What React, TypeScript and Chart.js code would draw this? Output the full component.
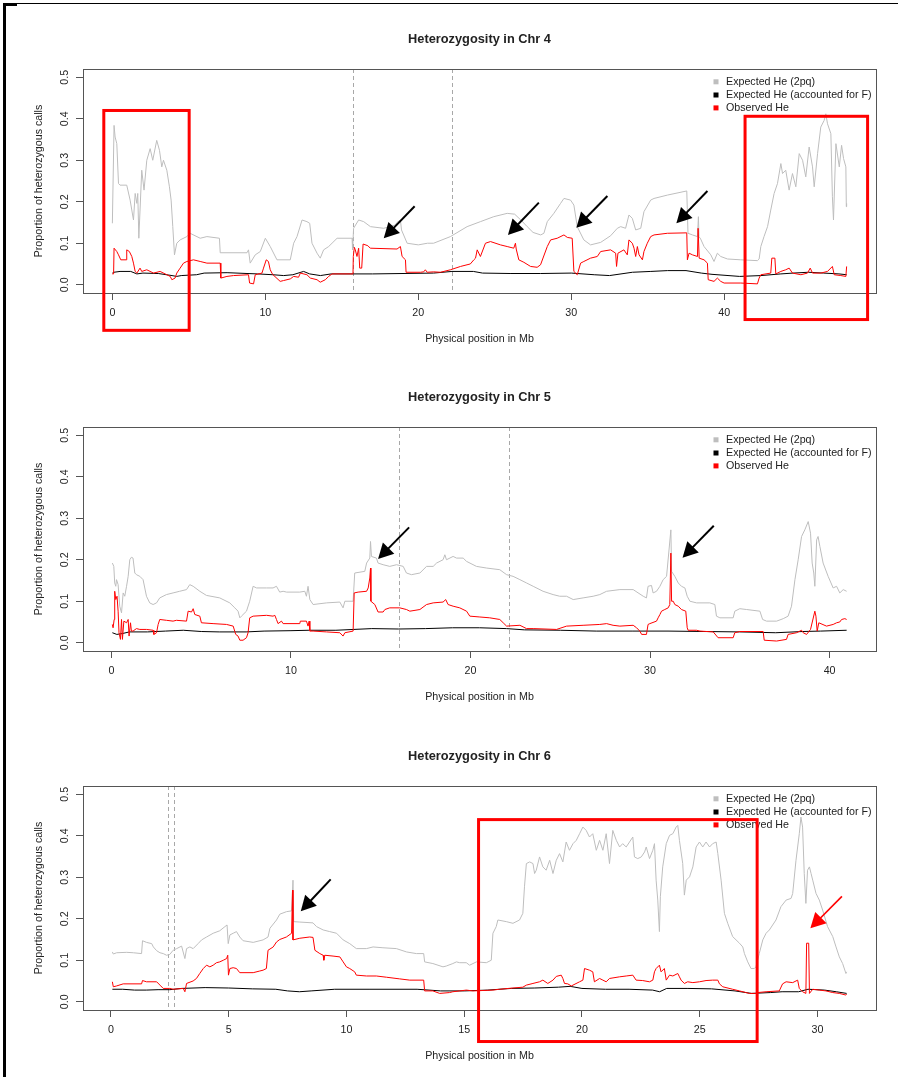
import React, { useEffect, useRef } from "react";
import { Chart, registerables } from "chart.js";

Chart.register(...registerables);

type Pt = [number, number];
type Box = [number, number, number, number];
type Arrow = [number, number, number, number, string];

// ---------------- Chr 4 ----------------
const chr4Exp2pq: Pt[] = [
  [0.0, 0.148], [0.11, 0.384], [0.18, 0.356], [0.29, 0.34], [0.4, 0.244], [0.5, 0.24], [0.94, 0.24], [1.16, 0.204],
  [1.38, 0.156], [1.49, 0.22], [1.6, 0.196], [1.66, 0.22], [1.73, 0.112], [1.92, 0.276], [2.07, 0.228], [2.25, 0.3],
  [2.47, 0.328], [2.64, 0.3], [2.9, 0.348], [3.08, 0.324], [3.23, 0.284], [3.34, 0.3], [3.56, 0.276], [3.73, 0.236],
  [3.84, 0.204], [3.95, 0.14], [4.06, 0.072], [4.21, 0.1], [4.43, 0.108], [4.87, 0.116], [5.08, 0.124], [5.74, 0.112],
  [6.18, 0.116], [7.0, 0.112], [7.05, 0.077], [8.8, 0.077], [8.9, 0.084], [9.01, 0.052], [9.34, 0.072], [9.67, 0.08],
  [10.0, 0.112], [10.32, 0.092], [10.76, 0.06], [11.63, 0.06], [11.85, 0.1], [12.07, 0.116], [12.4, 0.156], [12.72, 0.152],
  [12.9, 0.148], [13.05, 0.1], [13.38, 0.076], [13.59, 0.064], [13.81, 0.084], [14.14, 0.092], [14.36, 0.1], [14.69, 0.112],
  [15.67, 0.112], [15.7, 0.084], [15.77, 0.136], [16.1, 0.156], [16.43, 0.152], [16.87, 0.14], [17.74, 0.136], [18.5, 0.144],
  [18.6, 0.15], [18.83, 0.156], [18.9, 0.132], [19.27, 0.1], [20.0, 0.096], [20.6, 0.1], [21.0, 0.1], [22.1, 0.116],
  [23.19, 0.14], [24.06, 0.152], [24.93, 0.164], [25.81, 0.172], [26.3, 0.17], [26.7, 0.156], [27.12, 0.14], [27.5, 0.126],
  [28.0, 0.12], [28.21, 0.124], [28.43, 0.152], [28.86, 0.172], [29.3, 0.196], [29.52, 0.208], [29.95, 0.204], [30.17, 0.192],
  [30.39, 0.14], [30.82, 0.108], [31.26, 0.096], [31.92, 0.102], [32.57, 0.118], [33.01, 0.136], [33.23, 0.14], [33.55, 0.136],
  [33.77, 0.168], [33.99, 0.16], [34.21, 0.132], [34.54, 0.136], [34.75, 0.176], [35.19, 0.204], [35.41, 0.208], [36.28, 0.216],
  [37.55, 0.226], [37.63, 0.124], [37.92, 0.12], [38.25, 0.116], [38.31, 0.164], [38.35, 0.116], [38.46, 0.11], [38.68, 0.092],
  [39.12, 0.072], [39.33, 0.056], [39.55, 0.076], [39.77, 0.068], [40.21, 0.062], [41.08, 0.06], [42.17, 0.058], [42.28, 0.062],
  [42.39, 0.092], [42.6, 0.116], [42.83, 0.14], [43.04, 0.18], [43.26, 0.22], [43.48, 0.244], [43.7, 0.292], [43.81, 0.268],
  [44.02, 0.276], [44.24, 0.228], [44.46, 0.268], [44.68, 0.236], [44.9, 0.316], [45.12, 0.3], [45.33, 0.26], [45.55, 0.332],
  [45.77, 0.284], [45.88, 0.236], [46.1, 0.316], [46.31, 0.38], [46.53, 0.396], [46.64, 0.412], [46.75, 0.388], [46.97, 0.364],
  [47.07, 0.212], [47.14, 0.156], [47.3, 0.34], [47.52, 0.284], [47.67, 0.336], [47.8, 0.304], [47.95, 0.284], [47.98, 0.188],
  [48.0, 0.196],
];
const chr4ExpF: Pt[] = [
  [0, 0.028], [0.1, 0.03], [0.5, 0.032], [1.2, 0.032], [1.6, 0.026], [2.0, 0.028], [3.0, 0.027], [3.9, 0.022], [4.2, 0.02],
  [4.5, 0.022], [5.5, 0.024], [6.0, 0.028], [7.5, 0.029], [8.8, 0.027], [9.5, 0.026], [10.5, 0.024], [11.2, 0.022], [11.8, 0.024],
  [12.5, 0.032], [12.9, 0.026], [13.6, 0.022], [14.3, 0.026], [15.6, 0.026], [17, 0.026], [19, 0.027], [21, 0.028], [22.2, 0.032],
  [23.6, 0.032], [24.2, 0.028], [26, 0.027], [28, 0.027], [30, 0.028], [31.5, 0.024], [32.5, 0.022], [34, 0.03], [35.2, 0.032],
  [36.3, 0.034], [37.5, 0.034], [38.5, 0.028], [39.2, 0.025], [41, 0.02], [42.4, 0.022], [43.7, 0.026], [44.5, 0.028],
  [45.5, 0.03], [46.5, 0.028], [47.5, 0.026], [48, 0.024],
];
const chr4Obs: Pt[] = [
  [0.0, 0.026], [0.08, 0.026], [0.11, 0.088], [0.29, 0.08], [0.4, 0.072], [0.55, 0.06], [0.9, 0.06], [0.94, 0.084],
  [1.11, 0.08], [1.27, 0.068], [1.38, 0.052], [1.49, 0.032], [1.6, 0.028], [1.81, 0.04], [1.92, 0.032], [2.25, 0.036],
  [2.69, 0.028], [3.12, 0.032], [3.56, 0.024], [3.78, 0.02], [3.89, 0.012], [4.1, 0.016], [4.21, 0.028], [4.43, 0.04],
  [4.65, 0.052], [4.87, 0.056], [5.3, 0.06], [5.74, 0.056], [6.18, 0.052], [7.05, 0.052], [7.09, 0.016], [7.49, 0.02],
  [7.92, 0.022], [8.9, 0.024], [8.97, 0.004], [9.23, 0.002], [9.34, 0.024], [9.78, 0.028], [9.88, 0.04], [10.06, 0.06],
  [10.2, 0.056], [10.32, 0.036], [10.43, 0.028], [10.5, 0.024], [10.97, 0.008], [11.19, 0.01], [11.63, 0.014], [11.85, 0.02],
  [12.17, 0.018], [12.29, 0.028], [12.72, 0.024], [12.94, 0.016], [13.38, 0.012], [13.59, 0.006], [13.92, 0.012], [14.14, 0.02],
  [14.36, 0.026], [15.73, 0.026], [15.75, 0.068], [15.82, 0.09], [15.88, 0.084], [15.99, 0.068], [16.1, 0.088], [16.17, 0.04],
  [16.3, 0.04], [16.39, 0.098], [16.7, 0.094], [16.86, 0.088], [18.61, 0.086], [18.83, 0.092], [18.94, 0.068], [19.16, 0.06],
  [19.2, 0.03], [20.14, 0.03], [20.35, 0.031], [20.46, 0.036], [20.58, 0.03], [21.01, 0.031], [21.45, 0.03], [22.1, 0.036],
  [22.76, 0.044], [23.4, 0.05], [23.63, 0.06], [23.74, 0.064], [23.85, 0.084], [24.06, 0.068], [24.39, 0.1], [24.72, 0.104],
  [25.37, 0.096], [25.81, 0.092], [26.24, 0.088], [26.35, 0.1], [26.4, 0.086], [26.57, 0.06], [26.9, 0.054], [27.34, 0.044],
  [27.77, 0.042], [27.99, 0.048], [28.43, 0.092], [28.65, 0.108], [29.08, 0.112], [29.52, 0.12], [29.74, 0.114], [30.06, 0.112],
  [30.17, 0.032], [30.39, 0.024], [30.61, 0.052], [30.82, 0.056], [31.26, 0.064], [31.7, 0.068], [31.92, 0.08], [32.57, 0.084],
  [32.9, 0.076], [32.96, 0.044], [33.05, 0.076], [33.44, 0.084], [33.66, 0.072], [33.77, 0.108], [33.99, 0.1], [34.1, 0.088],
  [34.21, 0.068], [34.32, 0.092], [34.43, 0.072], [34.65, 0.06], [34.75, 0.08], [34.97, 0.1], [35.19, 0.116], [35.41, 0.12],
  [36.28, 0.124], [37.55, 0.125], [37.59, 0.06], [37.7, 0.076], [37.92, 0.072], [38.25, 0.068], [38.29, 0.136], [38.36, 0.064],
  [38.68, 0.06], [38.9, 0.052], [38.95, 0.012], [39.33, 0.008], [39.55, 0.016], [39.77, 0.008], [39.99, 0.004], [41.08, 0.004],
  [42.17, 0.002], [42.28, 0.016], [42.39, 0.024], [43.04, 0.028], [43.11, 0.064], [43.31, 0.064], [43.37, 0.026], [43.7, 0.032],
  [44.02, 0.036], [44.24, 0.04], [44.46, 0.028], [45.01, 0.024], [45.44, 0.028], [45.62, 0.04], [45.77, 0.028], [46.31, 0.028],
  [46.75, 0.032], [47.07, 0.044], [47.19, 0.024], [47.62, 0.022], [47.95, 0.02], [48.0, 0.044],
];
const chr4Dashes = [15.72, 22.2];
const chr4Boxes: Box[] = [[-0.56, 0.42, 5.02, -0.11], [41.36, 0.406, 49.37, -0.084]];
const chr4Arrows: Arrow[] = [
  [19.76, 0.189, 17.74, 0.112, "#000000"],
  [27.88, 0.198, 25.86, 0.12, "#000000"],
  [32.36, 0.214, 30.33, 0.137, "#000000"],
  [38.9, 0.226, 36.87, 0.148, "#000000"],
];

// ---------------- Chr 5 ----------------
const chr5Exp2pq: Pt[] = [
  [0.05, 0.192], [0.13, 0.184], [0.18, 0.144], [0.24, 0.136], [0.28, 0.152], [0.37, 0.14], [0.46, 0.088], [0.56, 0.072],
  [0.65, 0.12], [0.74, 0.112], [0.84, 0.136], [0.93, 0.16], [1.02, 0.2], [1.11, 0.206], [1.2, 0.204], [1.3, 0.168],
  [1.39, 0.164], [1.58, 0.16], [1.76, 0.152], [1.95, 0.112], [2.13, 0.096], [2.32, 0.092], [2.51, 0.096], [2.69, 0.108],
  [3.06, 0.116], [3.43, 0.12], [3.8, 0.124], [4.18, 0.128], [4.36, 0.14], [4.55, 0.136], [4.92, 0.124], [5.29, 0.114],
  [6.03, 0.108], [6.59, 0.096], [6.87, 0.084], [7.05, 0.076], [7.15, 0.06], [7.24, 0.064], [7.52, 0.076], [7.7, 0.1],
  [7.89, 0.136], [8.08, 0.132], [8.64, 0.132], [9.0, 0.132], [9.19, 0.136], [9.37, 0.122], [9.56, 0.124], [9.75, 0.122],
  [10.49, 0.122], [10.77, 0.124], [10.86, 0.112], [10.95, 0.136], [11.05, 0.104], [11.23, 0.092], [11.98, 0.096], [12.72, 0.098],
  [12.9, 0.084], [13.0, 0.1], [13.46, 0.1], [13.55, 0.168], [14.11, 0.172], [14.21, 0.192], [14.39, 0.204], [14.43, 0.244],
  [14.48, 0.208], [14.76, 0.204], [14.85, 0.192], [15.13, 0.188], [15.5, 0.184], [15.88, 0.188], [16.25, 0.184], [16.43, 0.168],
  [16.71, 0.164], [17.18, 0.168], [17.55, 0.184], [17.92, 0.184], [18.11, 0.192], [18.47, 0.2], [18.57, 0.212], [18.66, 0.2],
  [19.03, 0.208], [19.22, 0.204], [19.59, 0.204], [19.78, 0.196], [20.33, 0.184], [20.89, 0.18], [21.63, 0.176], [22.01, 0.164],
  [22.37, 0.16], [22.75, 0.152], [23.12, 0.144], [23.49, 0.136], [24.04, 0.124], [24.6, 0.116], [24.97, 0.112], [25.35, 0.112],
  [25.72, 0.104], [26.27, 0.108], [26.83, 0.112], [27.2, 0.116], [27.58, 0.124], [28.32, 0.128], [29.06, 0.128], [29.62, 0.112],
  [29.8, 0.108], [29.89, 0.136], [30.08, 0.138], [30.17, 0.12], [30.36, 0.124], [30.55, 0.136], [30.73, 0.152], [30.92, 0.16],
  [31.16, 0.272], [31.2, 0.172], [31.38, 0.16], [31.57, 0.144], [31.75, 0.136], [31.94, 0.132], [32.07, 0.112], [32.22, 0.1],
  [32.59, 0.096], [33.33, 0.096], [33.61, 0.092], [33.7, 0.064], [33.89, 0.06], [34.63, 0.06], [34.72, 0.076], [35.0, 0.082],
  [35.38, 0.08], [36.12, 0.076], [36.27, 0.056], [36.49, 0.052], [37.05, 0.052], [37.42, 0.058], [37.69, 0.064], [37.88, 0.088],
  [38.07, 0.152], [38.25, 0.2], [38.44, 0.256], [38.62, 0.272], [38.81, 0.292], [38.94, 0.264], [39.03, 0.192], [39.12, 0.168],
  [39.18, 0.136], [39.28, 0.248], [39.36, 0.256], [39.46, 0.232], [39.64, 0.192], [39.92, 0.16], [40.2, 0.132], [40.39, 0.136],
  [40.57, 0.12], [40.76, 0.128], [40.95, 0.124],
];
const chr5ExpF: Pt[] = [
  [0.05, 0.024], [0.3, 0.02], [0.6, 0.022], [1.0, 0.026], [2.0, 0.026], [3.0, 0.028], [4.0, 0.03], [5.0, 0.027], [6.0, 0.026],
  [7.5, 0.026], [8.5, 0.028], [10, 0.029], [11, 0.03], [12.5, 0.03], [13.5, 0.032], [14.5, 0.034], [16, 0.033], [17.5, 0.034],
  [19, 0.036], [20.5, 0.036], [22, 0.034], [23, 0.031], [25, 0.03], [27, 0.028], [29, 0.028], [31, 0.028], [33, 0.027],
  [35, 0.026], [37, 0.024], [38.5, 0.027], [39.5, 0.028], [40.95, 0.03],
];
const chr5Obs: Pt[] = [
  [0.05, 0.044], [0.09, 0.036], [0.15, 0.056], [0.18, 0.124], [0.24, 0.104], [0.31, 0.112], [0.37, 0.076], [0.42, 0.024],
  [0.5, 0.008], [0.56, 0.056], [0.61, 0.008], [0.69, 0.052], [0.84, 0.048], [0.93, 0.056], [0.98, 0.016], [1.06, 0.048],
  [1.11, 0.028], [1.2, 0.028], [1.39, 0.034], [1.58, 0.032], [1.95, 0.032], [2.32, 0.03], [2.36, 0.02], [2.51, 0.024],
  [2.6, 0.044], [2.69, 0.056], [3.06, 0.054], [3.43, 0.052], [3.62, 0.054], [4.18, 0.052], [4.27, 0.076], [4.46, 0.074],
  [4.55, 0.082], [4.64, 0.068], [4.92, 0.064], [5.01, 0.048], [5.66, 0.046], [6.41, 0.044], [6.78, 0.04], [6.92, 0.02],
  [7.05, 0.016], [7.15, 0.006], [7.33, 0.006], [7.52, 0.012], [7.61, 0.024], [7.7, 0.06], [7.89, 0.064], [8.64, 0.066],
  [9.0, 0.064], [9.1, 0.066], [9.19, 0.056], [9.28, 0.046], [9.47, 0.052], [9.56, 0.046], [10.49, 0.046], [10.52, 0.052],
  [10.86, 0.052], [10.95, 0.04], [11.01, 0.052], [11.05, 0.028], [11.23, 0.028], [11.98, 0.026], [12.72, 0.024], [12.9, 0.016],
  [13.0, 0.024], [13.46, 0.028], [13.52, 0.12], [13.74, 0.122], [14.21, 0.124], [14.3, 0.132], [14.39, 0.156], [14.43, 0.18],
  [14.45, 0.1], [14.67, 0.092], [14.85, 0.074], [15.13, 0.074], [15.23, 0.08], [15.5, 0.084], [16.06, 0.084], [16.43, 0.08],
  [16.62, 0.076], [17.18, 0.08], [17.55, 0.092], [17.92, 0.096], [18.47, 0.098], [18.62, 0.104], [18.75, 0.092], [19.03, 0.088],
  [19.4, 0.084], [19.78, 0.076], [19.96, 0.064], [20.52, 0.062], [21.07, 0.06], [21.63, 0.056], [21.82, 0.048], [22.01, 0.04],
  [22.75, 0.042], [23.12, 0.034], [23.49, 0.034], [24.79, 0.032], [25.35, 0.04], [26.27, 0.042], [27.2, 0.044], [27.58, 0.046],
  [27.94, 0.042], [28.32, 0.04], [29.06, 0.042], [29.25, 0.036], [29.43, 0.028], [29.53, 0.02], [29.8, 0.02], [29.89, 0.044],
  [29.99, 0.046], [30.36, 0.052], [30.45, 0.06], [30.55, 0.068], [30.64, 0.076], [30.82, 0.08], [31.01, 0.084], [31.1, 0.092],
  [31.16, 0.216], [31.2, 0.1], [31.29, 0.1], [31.38, 0.092], [31.57, 0.088], [31.75, 0.08], [31.99, 0.076], [32.07, 0.036],
  [32.12, 0.03], [32.59, 0.03], [32.78, 0.028], [33.52, 0.026], [33.79, 0.012], [34.63, 0.012], [34.72, 0.024], [35.0, 0.027],
  [36.3, 0.027], [36.36, 0.006], [37.05, 0.004], [37.6, 0.008], [37.69, 0.02], [38.16, 0.024], [38.44, 0.03], [38.53, 0.024],
  [38.72, 0.02], [38.94, 0.032], [39.18, 0.076], [39.24, 0.064], [39.31, 0.028], [39.4, 0.048], [39.83, 0.04], [40.2, 0.044],
  [40.39, 0.048], [40.57, 0.05], [40.67, 0.056], [40.85, 0.058], [40.95, 0.056],
];
const chr5Dashes = [16.04, 22.13];
const chr5Boxes: Box[] = [];
const chr5Arrows: Arrow[] = [
  [16.58, 0.278, 14.85, 0.202, "#000000"],
  [33.55, 0.282, 31.81, 0.205, "#000000"],
];

// ---------------- Chr 6 ----------------
const chr6Exp2pq: Pt[] = [
  [0.06, 0.12], [0.1, 0.115], [0.24, 0.118], [0.67, 0.119], [0.95, 0.118], [1.3, 0.116], [1.34, 0.147], [1.51, 0.143],
  [1.73, 0.14], [1.8, 0.132], [1.94, 0.123], [2.08, 0.118], [2.22, 0.116], [2.36, 0.112], [2.5, 0.114], [2.64, 0.124],
  [2.79, 0.128], [3.0, 0.134], [3.14, 0.104], [3.21, 0.128], [3.35, 0.132], [3.49, 0.128], [3.7, 0.14], [3.85, 0.149],
  [4.06, 0.156], [4.34, 0.165], [4.62, 0.171], [4.84, 0.181], [4.93, 0.185], [4.98, 0.14], [5.05, 0.161], [5.19, 0.165],
  [5.33, 0.169], [5.47, 0.156], [5.61, 0.147], [6.04, 0.143], [6.46, 0.149], [6.67, 0.156], [6.75, 0.177], [7.03, 0.197],
  [7.17, 0.211], [7.45, 0.217], [7.67, 0.219], [7.73, 0.293], [7.76, 0.193], [8.02, 0.192], [8.58, 0.19], [8.73, 0.181],
  [9.01, 0.173], [9.29, 0.169], [9.58, 0.165], [9.86, 0.149], [10.14, 0.14], [10.42, 0.128], [10.85, 0.128], [11.13, 0.132],
  [11.55, 0.13], [12.12, 0.128], [12.55, 0.12], [12.97, 0.116], [13.28, 0.116], [13.32, 0.096], [13.67, 0.092], [14.1, 0.084],
  [14.24, 0.086], [14.52, 0.092], [14.67, 0.096], [14.81, 0.094], [15.09, 0.094], [15.23, 0.088], [15.52, 0.096], [15.94, 0.094],
  [16.15, 0.1], [16.22, 0.165], [16.36, 0.181], [16.43, 0.197], [16.79, 0.193], [17.07, 0.189], [17.35, 0.197], [17.49, 0.213],
  [17.56, 0.277], [17.64, 0.333], [17.78, 0.337], [17.92, 0.333], [17.99, 0.309], [18.06, 0.317], [18.2, 0.349], [18.34, 0.325],
  [18.48, 0.317], [18.63, 0.341], [18.77, 0.309], [18.91, 0.341], [19.05, 0.357], [19.19, 0.337], [19.33, 0.385], [19.47, 0.365],
  [19.62, 0.381], [19.76, 0.389], [19.9, 0.405], [20.04, 0.421], [20.18, 0.413], [20.32, 0.397], [20.46, 0.405], [20.61, 0.365],
  [20.75, 0.389], [20.89, 0.365], [21.03, 0.405], [21.17, 0.333], [21.31, 0.413], [21.46, 0.389], [21.6, 0.373], [21.73, 0.381],
  [21.88, 0.373], [22.02, 0.385], [22.16, 0.397], [22.23, 0.349], [22.37, 0.345], [22.52, 0.349], [22.66, 0.361], [22.73, 0.373],
  [22.87, 0.345], [23.01, 0.365], [23.08, 0.381], [23.15, 0.293], [23.22, 0.245], [23.29, 0.169], [23.33, 0.253], [23.43, 0.325],
  [23.58, 0.381], [23.72, 0.401], [23.86, 0.405], [24.0, 0.421], [24.07, 0.425], [24.14, 0.389], [24.28, 0.333], [24.35, 0.257],
  [24.43, 0.293], [24.57, 0.301], [24.71, 0.325], [24.85, 0.373], [24.99, 0.385], [25.13, 0.373], [25.27, 0.385], [25.42, 0.373],
  [25.55, 0.381], [25.7, 0.385], [25.77, 0.357], [25.91, 0.293], [26.05, 0.213], [26.19, 0.189], [26.4, 0.157], [26.69, 0.141],
  [26.83, 0.132], [26.9, 0.116], [27.04, 0.096], [27.18, 0.08], [27.32, 0.08], [27.39, 0.084], [27.53, 0.116], [27.68, 0.149],
  [27.82, 0.165], [27.96, 0.173], [28.24, 0.197], [28.45, 0.229], [28.67, 0.245], [28.88, 0.249], [28.95, 0.261], [29.09, 0.341],
  [29.23, 0.405], [29.3, 0.445], [29.37, 0.421], [29.44, 0.309], [29.51, 0.237], [29.58, 0.317], [29.66, 0.325], [29.73, 0.309],
  [29.8, 0.293], [29.94, 0.261], [30.08, 0.245], [30.22, 0.221], [30.43, 0.181], [30.65, 0.157], [30.79, 0.132], [30.93, 0.108],
  [31.07, 0.092], [31.21, 0.068], [31.24, 0.072],
];
const chr6ExpF: Pt[] = [
  [0.06, 0.03], [0.5, 0.03], [1.0, 0.028], [1.5, 0.028], [2.0, 0.029], [2.5, 0.029], [3.0, 0.032], [4.0, 0.034], [5.0, 0.033],
  [6.0, 0.031], [7.0, 0.03], [7.5, 0.026], [8.0, 0.024], [8.5, 0.026], [9.5, 0.03], [11, 0.03], [13, 0.03], [14, 0.026],
  [15, 0.026], [16, 0.028], [17, 0.032], [18, 0.033], [19, 0.035], [19.5, 0.037], [20, 0.032], [21, 0.03], [22, 0.03],
  [23, 0.028], [23.3, 0.024], [23.6, 0.032], [24.5, 0.032], [25.5, 0.031], [26.5, 0.026], [27.2, 0.02], [28, 0.022],
  [28.5, 0.024], [29.2, 0.024], [29.6, 0.03], [30.3, 0.028], [30.8, 0.024], [31.24, 0.02],
];
const chr6Obs: Pt[] = [
  [0.06, 0.048], [0.1, 0.036], [0.24, 0.038], [0.52, 0.043], [1.3, 0.043], [1.34, 0.051], [1.51, 0.048], [1.94, 0.048],
  [2.08, 0.04], [2.22, 0.032], [2.5, 0.032], [2.64, 0.03], [3.07, 0.032], [3.14, 0.024], [3.21, 0.044], [3.49, 0.05],
  [3.63, 0.056], [3.77, 0.068], [3.92, 0.08], [4.06, 0.088], [4.2, 0.084], [4.34, 0.088], [4.48, 0.094], [4.62, 0.096],
  [4.77, 0.1], [4.91, 0.104], [4.96, 0.112], [4.99, 0.064], [5.05, 0.08], [5.19, 0.082], [5.33, 0.08], [5.47, 0.07],
  [6.04, 0.07], [6.32, 0.074], [6.46, 0.076], [6.6, 0.08], [6.67, 0.124], [6.89, 0.132], [7.03, 0.144], [7.17, 0.15],
  [7.45, 0.156], [7.67, 0.165], [7.71, 0.269], [7.73, 0.149], [8.02, 0.153], [8.44, 0.156], [8.58, 0.155], [8.66, 0.124],
  [8.87, 0.116], [9.01, 0.112], [9.04, 0.1], [9.08, 0.112], [9.43, 0.11], [9.72, 0.108], [9.86, 0.096], [10.0, 0.084],
  [10.14, 0.08], [10.35, 0.072], [10.42, 0.064], [10.85, 0.062], [11.27, 0.062], [11.7, 0.059], [12.26, 0.055], [12.69, 0.052],
  [13.28, 0.052], [13.32, 0.026], [13.67, 0.026], [13.96, 0.02], [14.38, 0.022], [14.52, 0.024], [14.81, 0.026], [15.09, 0.028],
  [15.37, 0.026], [16.22, 0.028], [16.5, 0.03], [17.07, 0.033], [17.49, 0.035], [17.64, 0.04], [17.92, 0.044], [18.2, 0.048],
  [18.34, 0.052], [18.55, 0.044], [18.77, 0.052], [18.91, 0.061], [19.12, 0.064], [19.19, 0.056], [19.26, 0.044], [19.4, 0.043],
  [19.55, 0.038], [19.9, 0.048], [20.04, 0.052], [20.11, 0.08], [20.32, 0.076], [20.46, 0.072], [20.53, 0.048], [20.75, 0.056],
  [20.89, 0.052], [21.03, 0.048], [21.17, 0.056], [21.6, 0.06], [21.88, 0.062], [22.16, 0.064], [22.3, 0.052], [22.58, 0.051],
  [22.87, 0.048], [23.01, 0.052], [23.08, 0.072], [23.15, 0.08], [23.29, 0.088], [23.36, 0.072], [23.5, 0.08], [23.58, 0.052],
  [23.72, 0.064], [23.86, 0.062], [24.07, 0.068], [24.14, 0.06], [24.21, 0.052], [24.35, 0.044], [24.49, 0.048], [24.71, 0.046],
  [24.99, 0.048], [25.27, 0.051], [25.55, 0.052], [25.77, 0.052], [25.84, 0.043], [25.98, 0.036], [26.4, 0.03], [26.69, 0.026],
  [26.97, 0.022], [27.11, 0.02], [27.39, 0.02], [27.46, 0.022], [27.82, 0.024], [28.38, 0.026], [28.52, 0.043], [28.67, 0.048],
  [28.95, 0.046], [29.16, 0.052], [29.23, 0.032], [29.37, 0.024], [29.51, 0.02], [29.54, 0.141], [29.63, 0.141], [29.66, 0.02],
  [29.8, 0.03], [30.08, 0.028], [30.36, 0.026], [30.65, 0.022], [30.93, 0.02], [31.21, 0.016], [31.24, 0.018],
];
const chr6Dashes = [2.41, 2.66];
const chr6Boxes: Box[] = [[15.61, 0.439, 27.44, -0.096]];
const chr6Arrows: Arrow[] = [
  [9.33, 0.295, 8.06, 0.218, "#000000"],
  [31.04, 0.254, 29.7, 0.177, "#FF0000"],
];

// ---------------- shared ----------------
const seriesNames = ["Expected He (2pq)", "Expected He (accounted for F)", "Observed He"];
const seriesColors = ["#BEBEBE", "#000000", "#FF0000"];
const yLimits = [0, 0.5];
const yStep = 0.1;
const xTitle = "Physical position in Mb";
const yTitle = "Proportion of heterozygous calls";

const FONT = '"Liberation Sans", Arial, Helvetica, sans-serif';
const TEXT = "#222222";
const LINE = "#555555";
const W = 906;
const H = 359;

interface PanelCfg {
  title: string;
  exp2pq: Pt[];
  expF: Pt[];
  obs: Pt[];
  xStep: number;
  dashes: number[];
  boxes: Box[];
  arrows: Arrow[];
}

const panels: PanelCfg[] = [
  { title: "Heterozygosity in Chr 4", exp2pq: chr4Exp2pq, expF: chr4ExpF, obs: chr4Obs, xStep: 10, dashes: chr4Dashes, boxes: chr4Boxes, arrows: chr4Arrows },
  { title: "Heterozygosity in Chr 5", exp2pq: chr5Exp2pq, expF: chr5ExpF, obs: chr5Obs, xStep: 10, dashes: chr5Dashes, boxes: chr5Boxes, arrows: chr5Arrows },
  { title: "Heterozygosity in Chr 6", exp2pq: chr6Exp2pq, expF: chr6ExpF, obs: chr6Obs, xStep: 5, dashes: chr6Dashes, boxes: chr6Boxes, arrows: chr6Arrows },
];
const panelTops = [0, 358, 717];

function drawArrow(ctx: CanvasRenderingContext2D, x0: number, y0: number, x1: number, y1: number, color: string) {
  const dx = x1 - x0;
  const dy = y1 - y0;
  const len = Math.hypot(dx, dy);
  const ux = dx / len;
  const uy = dy / len;
  const headLen = 15;
  const halfW = 8;
  const bx = x1 - ux * headLen;
  const by = y1 - uy * headLen;
  ctx.save();
  ctx.strokeStyle = color;
  ctx.fillStyle = color;
  ctx.lineWidth = color === "#000000" ? 2 : 1.6;
  ctx.beginPath();
  ctx.moveTo(x0, y0);
  ctx.lineTo(bx + ux * 2, by + uy * 2);
  ctx.stroke();
  ctx.beginPath();
  ctx.moveTo(x1, y1);
  ctx.lineTo(bx - uy * halfW, by + ux * halfW);
  ctx.lineTo(bx + uy * halfW, by - ux * halfW);
  ctx.closePath();
  ctx.fill();
  ctx.restore();
}

function HetPanel({ cfg, top }: { cfg: PanelCfg; top: number }) {
  const ref = useRef<HTMLCanvasElement | null>(null);

  useEffect(() => {
    const canvas = ref.current;
    if (!canvas) return;
    const xs = [...cfg.exp2pq, ...cfg.expF, ...cfg.obs].map((p) => p[0]);
    const lo = Math.min(...xs);
    const hi = Math.max(...xs);
    const xExt = (hi - lo) * 0.04;
    const yExt = (yLimits[1] - yLimits[0]) * 0.04;
    const toXY = (s: Pt[]) => s.map(([x, y]) => ({ x, y }));

    const decor = {
      id: "decor",
      beforeDatasetsDraw(chart: any) {
        const { ctx, chartArea: a, scales } = chart;
        ctx.save();
        ctx.strokeStyle = "#A8A8A8";
        ctx.lineWidth = 1;
        ctx.setLineDash([4, 3]);
        for (const v of cfg.dashes) {
          const px = Math.round(scales.x.getPixelForValue(v)) + 0.5;
          ctx.beginPath();
          ctx.moveTo(px, a.top);
          ctx.lineTo(px, a.bottom);
          ctx.stroke();
        }
        ctx.restore();
      },
      afterDraw(chart: any) {
        const { ctx, chartArea: a, scales } = chart;
        const sx = scales.x;
        const sy = scales.y;
        ctx.save();
        // plot frame
        ctx.strokeStyle = LINE;
        ctx.lineWidth = 1;
        ctx.strokeRect(Math.round(a.left) + 0.5, Math.round(a.top) + 0.5, Math.round(a.right - a.left), Math.round(a.bottom - a.top));
        // title
        ctx.fillStyle = TEXT;
        ctx.font = `bold 12.8px ${FONT}`;
        ctx.textAlign = "center";
        ctx.textBaseline = "middle";
        ctx.fillText(cfg.title, (a.left + a.right) / 2, a.top - 30);
        // legend
        const rows = [13.3, 26.5, 39.4];
        ctx.font = `10.7px ${FONT}`;
        ctx.textAlign = "left";
        for (let i = 0; i < 3; i++) {
          const ry = a.top + rows[i];
          ctx.fillStyle = seriesColors[i];
          ctx.fillRect(a.right - 162.5, ry - 3, 5, 5);
          ctx.fillStyle = TEXT;
          ctx.fillText(seriesNames[i], a.right - 150, ry);
        }
        // highlighted regions
        ctx.strokeStyle = "#FF0000";
        ctx.lineWidth = 3;
        for (const [x0, y0, x1, y1] of cfg.boxes) {
          const px0 = sx.getPixelForValue(x0);
          const px1 = sx.getPixelForValue(x1);
          const py0 = sy.getPixelForValue(y0);
          const py1 = sy.getPixelForValue(y1);
          ctx.strokeRect(px0, py0, px1 - px0, py1 - py0);
        }
        // arrows
        for (const [x0, y0, x1, y1, c] of cfg.arrows) {
          drawArrow(ctx, sx.getPixelForValue(x0), sy.getPixelForValue(y0), sx.getPixelForValue(x1), sy.getPixelForValue(y1), c);
        }
        ctx.restore();
      },
    };

    const lineDs = (label: string, pts: Pt[], color: string, order: number) => ({
      label,
      data: toXY(pts),
      borderColor: color,
      backgroundColor: color,
      borderWidth: 1,
      pointRadius: 0,
      tension: 0,
      fill: false,
      order,
    });

    const chart = new Chart(canvas, {
      type: "line",
      data: {
        datasets: [
          lineDs(seriesNames[2], cfg.obs, seriesColors[2], 0),
          lineDs(seriesNames[1], cfg.expF, seriesColors[1], 1),
          lineDs(seriesNames[0], cfg.exp2pq, seriesColors[0], 2),
        ],
      },
      options: {
        animation: false,
        responsive: false,
        events: [],
        layout: { padding: { left: 0, top: 69, right: 30, bottom: 0 } },
        plugins: {
          legend: { display: false },
          tooltip: { enabled: false },
          title: { display: false },
        },
        scales: {
          x: {
            type: "linear",
            min: lo - xExt,
            max: hi + xExt,
            afterFit: (s: any) => {
              s.height = 66;
            },
            border: { display: false },
            grid: { drawOnChartArea: false, drawTicks: true, tickLength: 7, tickColor: LINE, tickWidth: 1 },
            ticks: {
              stepSize: cfg.xStep,
              includeBounds: false,
              autoSkip: false,
              maxRotation: 0,
              padding: 6.5,
              color: TEXT,
              font: { family: FONT, size: 10.7 },
              callback: (v: any) => String(Math.round(Number(v))),
            },
            title: {
              display: true,
              text: xTitle,
              color: TEXT,
              font: { family: FONT, size: 10.7 },
              padding: { top: 0, bottom: 13.5 },
            },
          },
          y: {
            type: "linear",
            min: yLimits[0] - yExt,
            max: yLimits[1] + yExt,
            afterFit: (s: any) => {
              s.width = 83;
            },
            border: { display: false },
            grid: { drawOnChartArea: false, drawTicks: true, tickLength: 7, tickColor: LINE, tickWidth: 1 },
            ticks: {
              stepSize: yStep,
              includeBounds: false,
              autoSkip: false,
              minRotation: 90,
              maxRotation: 90,
              crossAlign: "center",
              padding: 3.5,
              color: TEXT,
              font: { family: FONT, size: 10.7 },
              callback: (v: any) => Number(v).toFixed(1),
            },
            title: {
              display: true,
              text: yTitle,
              color: TEXT,
              font: { family: FONT, size: 10.7 },
              padding: { top: 33, bottom: 0 },
            },
          },
        },
      } as any,
      plugins: [decor],
    });
    return () => chart.destroy();
  }, [cfg]);

  return (
    <canvas
      ref={ref}
      width={W}
      height={H}
      style={{ position: "absolute", left: 0, top, width: W, height: H, display: "block" }}
    />
  );
}

export default function App() {
  return (
    <div style={{ position: "absolute", left: 0, top: 0, width: W, height: 1077, background: "#ffffff", overflow: "hidden" }}>
      {panels.map((p, i) => (
        <HetPanel key={p.title} cfg={p} top={panelTops[i]} />
      ))}
      <div style={{ position: "absolute", left: 3, top: 3, width: 3, height: 1074, background: "#000" }} />
      <div style={{ position: "absolute", left: 3, top: 3, width: 895, height: 1, background: "#000" }} />
      <div style={{ position: "absolute", left: 3, top: 3, width: 14, height: 3, background: "#000" }} />
    </div>
  );
}
